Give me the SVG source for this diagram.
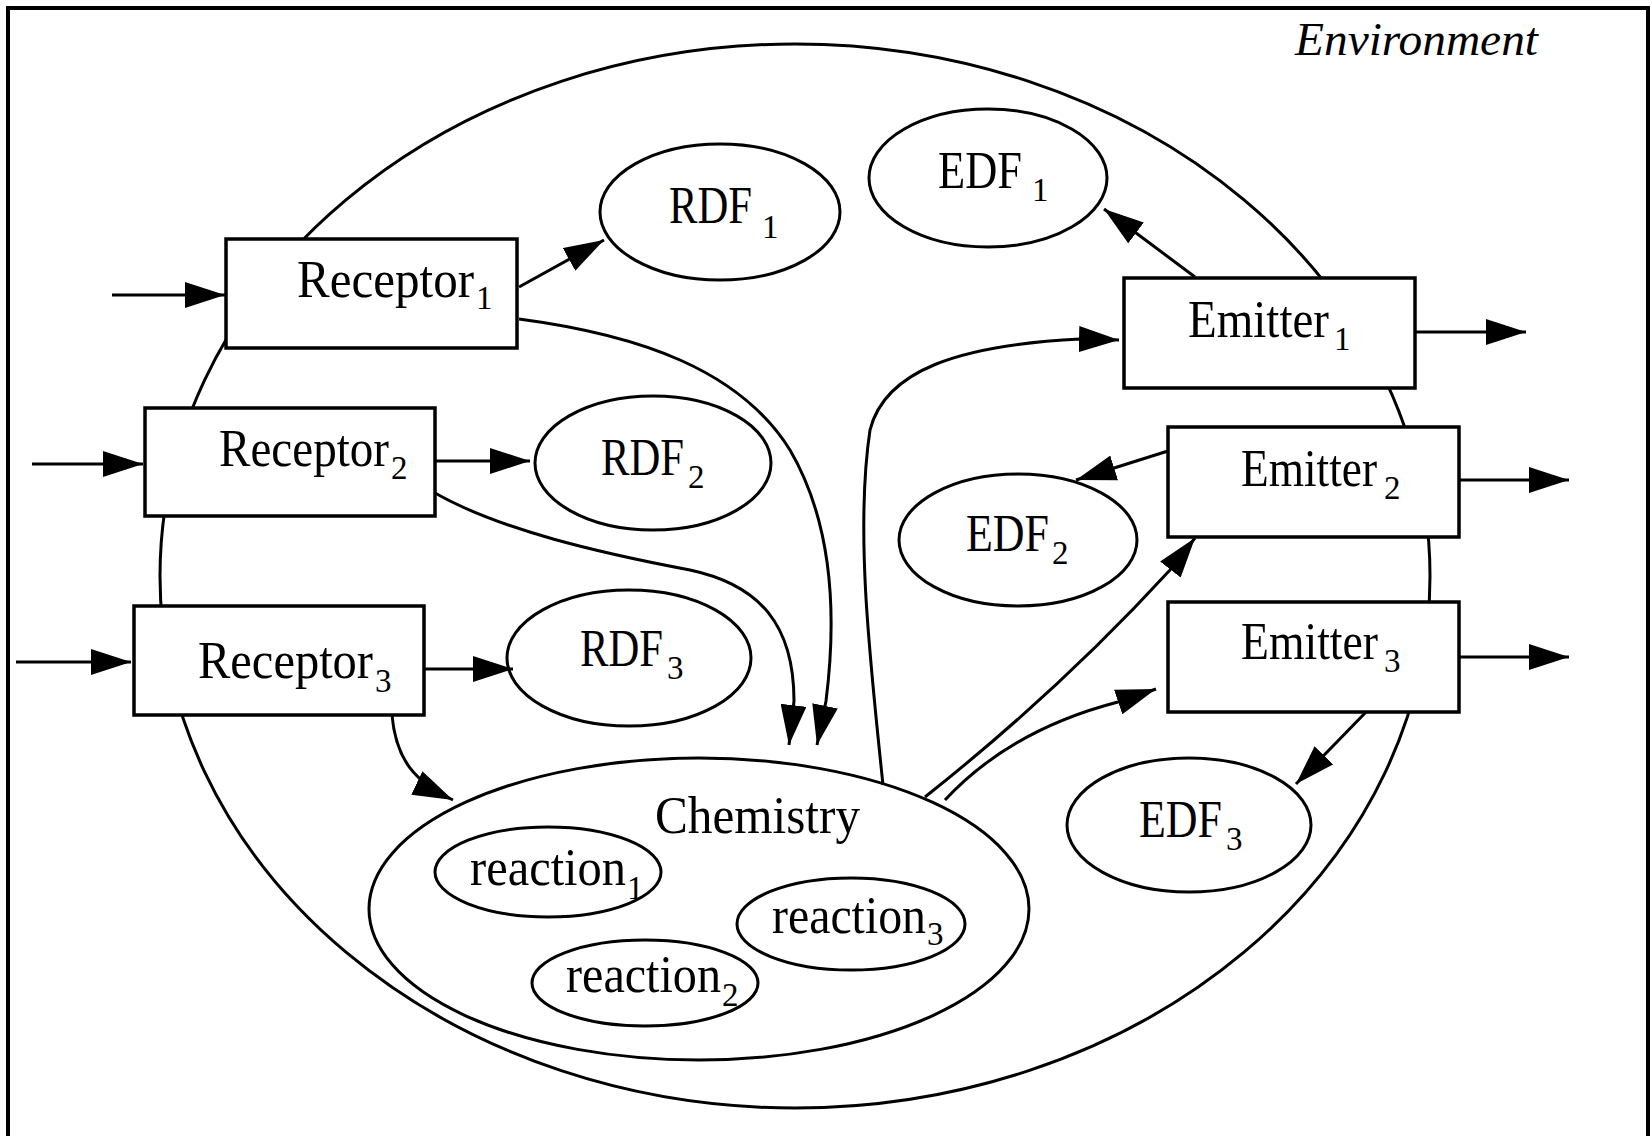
<svg xmlns="http://www.w3.org/2000/svg" width="1652" height="1136" viewBox="0 0 1652 1136">
  <defs>
    <style>
      .frame { fill: none; stroke: #000; stroke-width: 4; }
      .box { fill: #fff; stroke: #000; stroke-width: 3.5; }
      .oval { fill: none; stroke: #000; stroke-width: 3; }
      .wire { fill: none; stroke: #000; stroke-width: 3; marker-end: url(#head); }
      text { font-family: "Liberation Serif", "Times New Roman", serif; font-size: 52px; fill: #000; }
      .sub { font-size: 33px; }
      .env { font-style: italic; font-size: 46px; }
    </style>
    <marker id="head" viewBox="0 0 40 26" refX="40" refY="13" markerWidth="40" markerHeight="26" markerUnits="userSpaceOnUse" orient="auto">
      <path d="M0,0 L40,13 L0,26 Z" fill="#000"/>
    </marker>
  </defs>

  <rect width="1652" height="1136" fill="#fff"/>

  <!-- environment frame (open at the bottom) -->
  <g id="environment">
    <path class="frame" d="M8,1136 V8 H1648 V1136"/>
    <text class="env" x="1295" y="55" textLength="243" lengthAdjust="spacingAndGlyphs">Environment</text>
  </g>

  <!-- cell boundary -->
  <g id="cell">
    <ellipse class="oval" cx="795" cy="576" rx="635" ry="532"/>
  </g>

  <!-- connectors -->
  <g id="connectors">
    <!-- inputs from the environment -->
    <path class="wire" d="M112,295 L225,295"/>
    <path class="wire" d="M32,464 L143,464"/>
    <path class="wire" d="M16,662 L131,662"/>
    <!-- receptors to their data flows -->
    <path class="wire" d="M519,287 L604,240"/>
    <path class="wire" d="M435,461 L530,461"/>
    <path class="wire" d="M424,669 L513,669"/>
    <!-- receptors to chemistry -->
    <path class="wire" d="M519,319 C640,335 740,370 790,450 C825,510 840,590 826,701 L817,745"/>
    <path class="wire" d="M435,493 C500,530 600,553 690,570 C760,585 794,625 794,701 L789,745"/>
    <path class="wire" d="M392,715 C396,760 415,782 453,800"/>
    <!-- chemistry to emitters -->
    <path class="wire" d="M883,785 C870,660 855,530 870,430 C885,370 960,345 1080,339 L1119,340"/>
    <path class="wire" d="M925,797 Q1060,690 1170,570 L1195,538"/>
    <path class="wire" d="M945,800 Q1010,730 1118,702 L1156,689"/>
    <!-- emitters to their data flows -->
    <path class="wire" d="M1195,277 L1104,209"/>
    <path class="wire" d="M1168,451 L1076,480"/>
    <path class="wire" d="M1368,710 L1296,784"/>
    <!-- outputs to the environment -->
    <path class="wire" d="M1415,332 L1526,332"/>
    <path class="wire" d="M1459,480 L1569,480"/>
    <path class="wire" d="M1459,657 L1569,657"/>
  </g>

  <!-- receptors -->
  <g id="receptor1">
    <rect class="box" x="226" y="239" width="291" height="109"/>
    <text x="297" y="297"><tspan textLength="177" lengthAdjust="spacingAndGlyphs">Receptor</tspan><tspan class="sub" x="476" y="309">1</tspan></text>
  </g>
  <g id="receptor2">
    <rect class="box" x="145" y="408" width="290" height="108"/>
    <text x="219" y="466"><tspan textLength="170" lengthAdjust="spacingAndGlyphs">Receptor</tspan><tspan class="sub" x="391" y="479">2</tspan></text>
  </g>
  <g id="receptor3">
    <rect class="box" x="134" y="606" width="290" height="109"/>
    <text x="198" y="678"><tspan textLength="175" lengthAdjust="spacingAndGlyphs">Receptor</tspan><tspan class="sub" x="375" y="692">3</tspan></text>
  </g>

  <!-- receptor data flows -->
  <g id="rdf1">
    <ellipse class="oval" cx="720" cy="212" rx="120" ry="68"/>
    <text x="669" y="223"><tspan textLength="83" lengthAdjust="spacingAndGlyphs">RDF</tspan><tspan class="sub" x="762" y="238">1</tspan></text>
  </g>
  <g id="rdf2">
    <ellipse class="oval" cx="653" cy="463" rx="118" ry="67"/>
    <text x="601" y="475"><tspan textLength="83" lengthAdjust="spacingAndGlyphs">RDF</tspan><tspan class="sub" x="688" y="488">2</tspan></text>
  </g>
  <g id="rdf3">
    <ellipse class="oval" cx="629" cy="658" rx="122" ry="68"/>
    <text x="580" y="666"><tspan textLength="83" lengthAdjust="spacingAndGlyphs">RDF</tspan><tspan class="sub" x="667" y="679">3</tspan></text>
  </g>

  <!-- emitters -->
  <g id="emitter1">
    <rect class="box" x="1124" y="278" width="291" height="110"/>
    <text x="1188" y="337"><tspan textLength="141" lengthAdjust="spacingAndGlyphs">Emitter</tspan><tspan class="sub" x="1334" y="350">1</tspan></text>
  </g>
  <g id="emitter2">
    <rect class="box" x="1168" y="427" width="291" height="110"/>
    <text x="1241" y="486"><tspan textLength="136" lengthAdjust="spacingAndGlyphs">Emitter</tspan><tspan class="sub" x="1384" y="499">2</tspan></text>
  </g>
  <g id="emitter3">
    <rect class="box" x="1168" y="602" width="291" height="110"/>
    <text x="1241" y="659"><tspan textLength="137" lengthAdjust="spacingAndGlyphs">Emitter</tspan><tspan class="sub" x="1384" y="672">3</tspan></text>
  </g>

  <!-- emitter data flows -->
  <g id="edf1">
    <ellipse class="oval" cx="988" cy="178" rx="119" ry="69"/>
    <text x="938" y="188"><tspan textLength="84" lengthAdjust="spacingAndGlyphs">EDF</tspan><tspan class="sub" x="1032" y="201">1</tspan></text>
  </g>
  <g id="edf2">
    <ellipse class="oval" cx="1018" cy="540" rx="119" ry="66"/>
    <text x="966" y="551"><tspan textLength="83" lengthAdjust="spacingAndGlyphs">EDF</tspan><tspan class="sub" x="1052" y="564">2</tspan></text>
  </g>
  <g id="edf3">
    <ellipse class="oval" cx="1189" cy="825" rx="122" ry="67"/>
    <text x="1139" y="837"><tspan textLength="83" lengthAdjust="spacingAndGlyphs">EDF</tspan><tspan class="sub" x="1226" y="850">3</tspan></text>
  </g>

  <!-- chemistry and its reactions -->
  <g id="chemistry">
    <ellipse class="oval" cx="699" cy="909" rx="330" ry="151"/>
    <text x="655" y="833" textLength="205" lengthAdjust="spacingAndGlyphs">Chemistry</text>
  </g>
  <g id="reaction1">
    <ellipse class="oval" cx="548" cy="872" rx="113" ry="45"/>
    <text x="470" y="885"><tspan textLength="156" lengthAdjust="spacingAndGlyphs">reaction</tspan><tspan class="sub" x="627" y="899">1</tspan></text>
  </g>
  <g id="reaction2">
    <ellipse class="oval" cx="645" cy="983" rx="113" ry="43"/>
    <text x="566" y="992"><tspan textLength="155" lengthAdjust="spacingAndGlyphs">reaction</tspan><tspan class="sub" x="722" y="1006">2</tspan></text>
  </g>
  <g id="reaction3">
    <ellipse class="oval" cx="851" cy="924" rx="114" ry="46"/>
    <text x="772" y="933"><tspan textLength="154" lengthAdjust="spacingAndGlyphs">reaction</tspan><tspan class="sub" x="927" y="945">3</tspan></text>
  </g>
</svg>
